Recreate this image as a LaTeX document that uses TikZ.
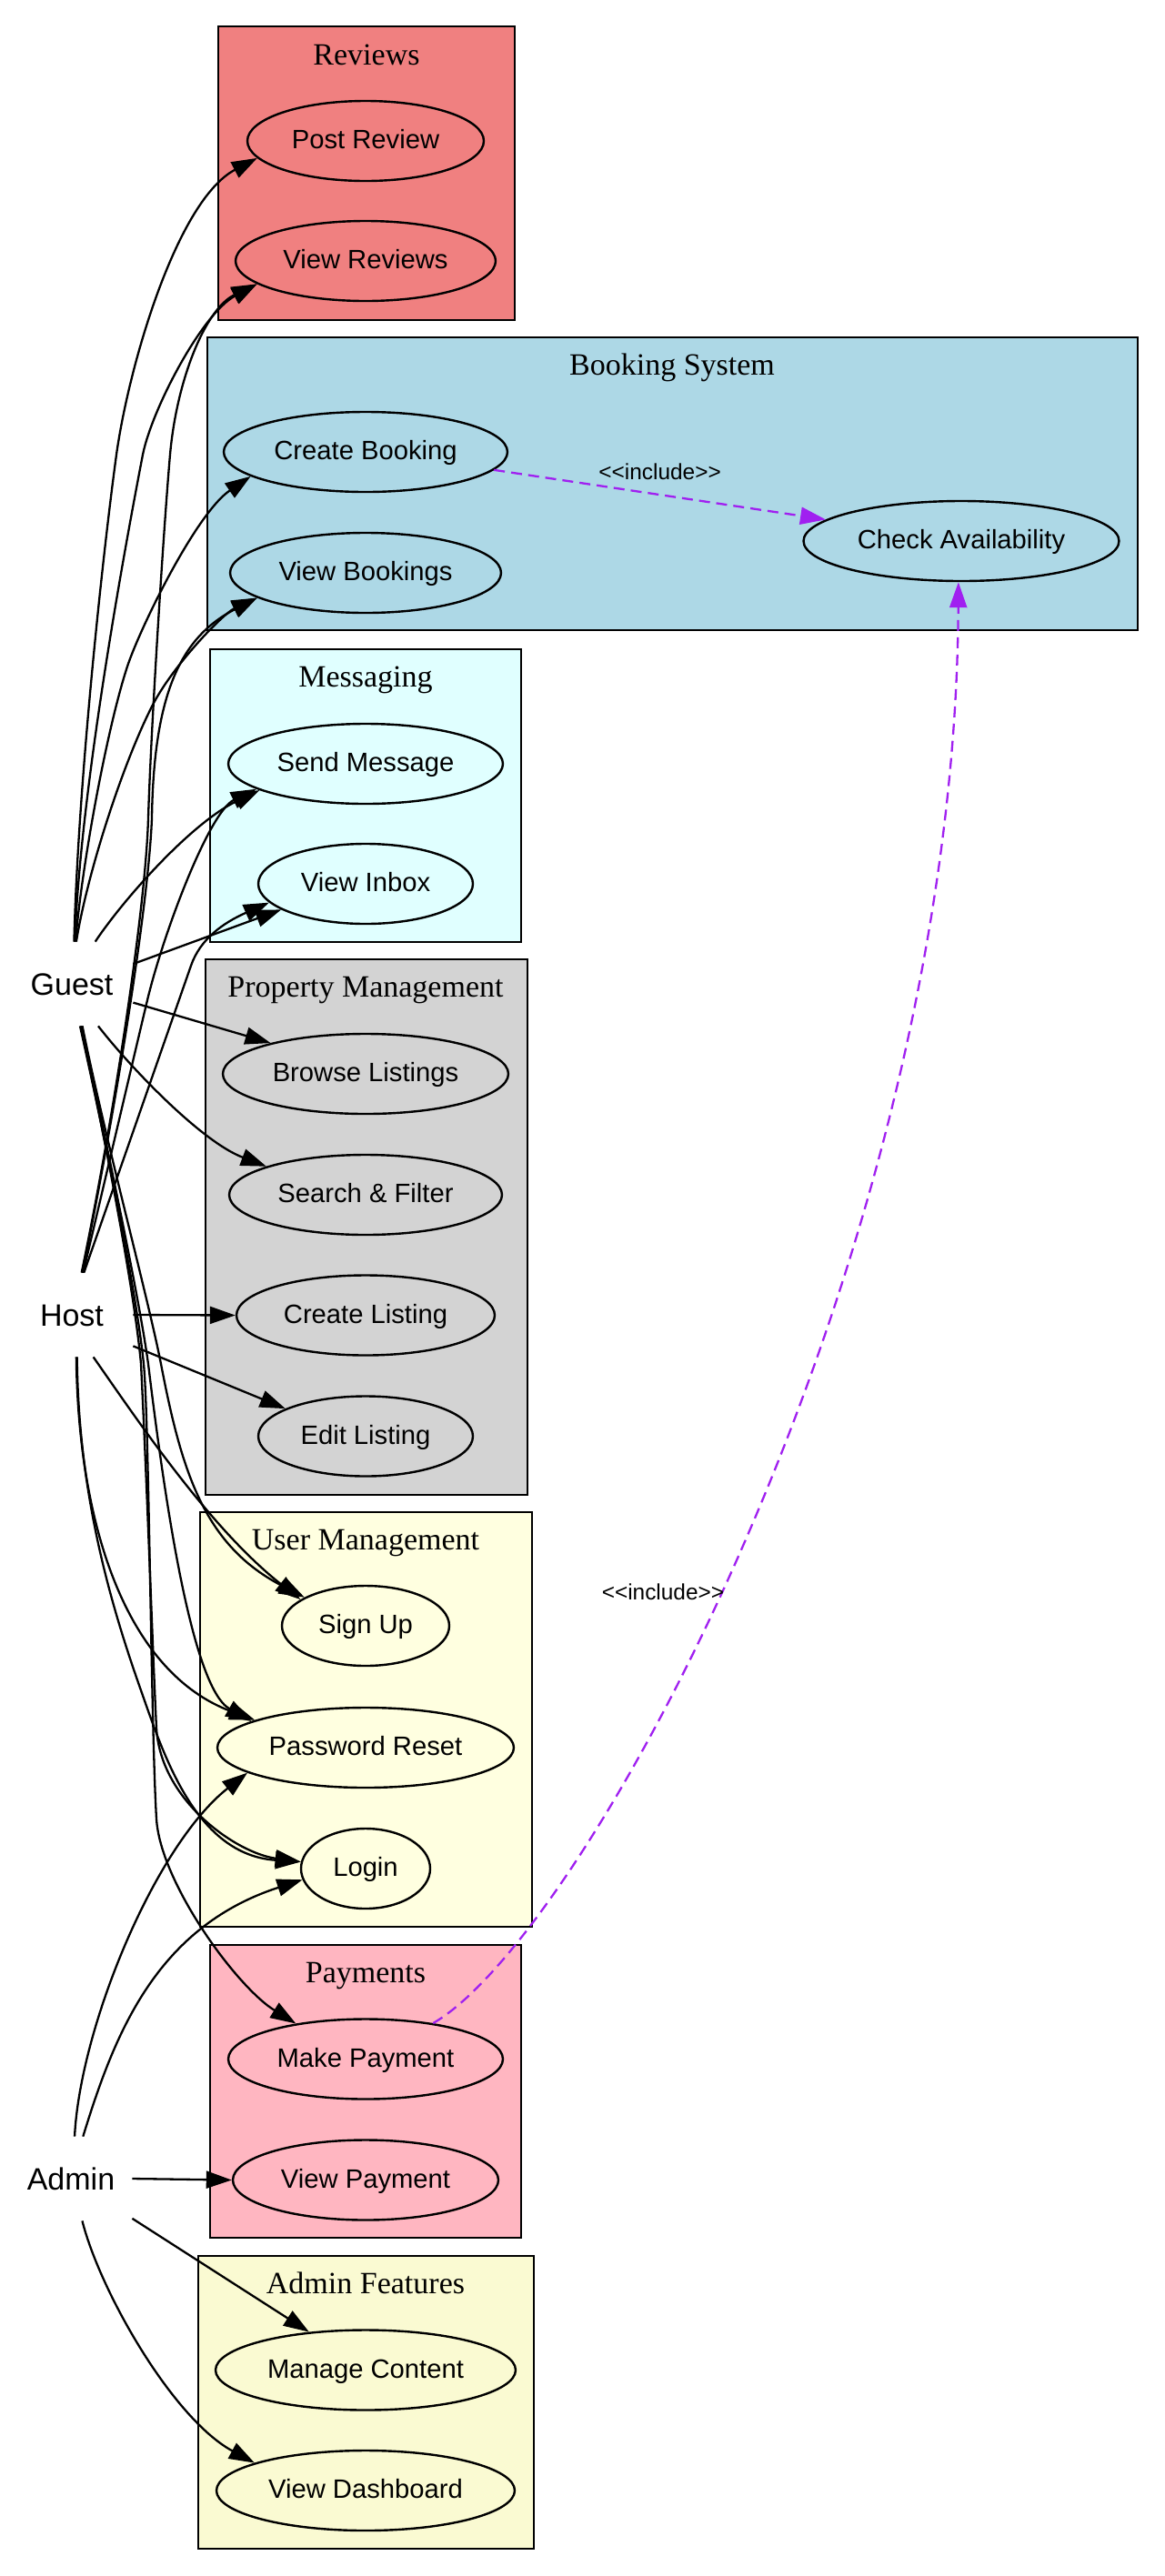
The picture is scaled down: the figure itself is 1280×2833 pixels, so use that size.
\documentclass[tikz,border=0pt]{standalone}
\usepackage{fontspec}
\setmainfont{Liberation Serif}
\newfontfamily\sansf{Liberation Sans}
\usetikzlibrary{shapes.geometric,arrows.meta}
\definecolor{cReviews}{HTML}{F08080}
\definecolor{cBooking}{HTML}{ADD8E6}
\definecolor{cMsg}{HTML}{E0FFFF}
\definecolor{cProp}{HTML}{D3D3D3}
\definecolor{cUser}{HTML}{FFFFE0}
\definecolor{cPay}{HTML}{FFB6C1}
\definecolor{cAdmin}{HTML}{FAFAD2}
\definecolor{inclc}{HTML}{A020F0}
\begin{document}
\begin{tikzpicture}[x=0.5pt,y=-0.5pt,
  cluster/.style={draw=black,line width=1.3pt},
  clabel/.style={font=\fontsize{17}{20}\selectfont,anchor=base,inner sep=0},
  uc/.style={ellipse,draw=black,line width=1.2pt,inner sep=0,minimum height=44pt,
    font=\sansf\fontsize{14.6}{17}\selectfont,text height=10pt,text depth=1.5pt},
  actor/.style={rectangle,inner sep=0,minimum width=67pt,minimum height=46pt,
    font=\sansf\fontsize{17}{20}\selectfont,text height=12pt,text depth=0pt},
  assoc/.style={line width=1.15pt,-{Triangle[length=14pt,width=9.5pt]}},
  inclarrow/.style={draw=inclc,line width=1.15pt,dash pattern=on 6pt off 3.5pt,-{Triangle[length=14pt,width=9.5pt]}},
  incllabel/.style={font=\sansf\fontsize{12.2}{14}\selectfont,inner sep=0,text=black}]
\useasboundingbox (0,0) rectangle (1280,2833);
\fill[white] (0,0) rectangle (1280,2833);
% clusters
\filldraw[cluster,fill=cReviews] (240,29) rectangle (566,352);
\filldraw[cluster,fill=cBooking] (228,371) rectangle (1251,693);
\filldraw[cluster,fill=cMsg] (231,714) rectangle (573,1036);
\filldraw[cluster,fill=cProp] (226,1055) rectangle (580,1644);
\filldraw[cluster,fill=cUser] (220,1663) rectangle (585,2119);
\filldraw[cluster,fill=cPay] (231,2139) rectangle (573,2461);
\filldraw[cluster,fill=cAdmin] (218,2481) rectangle (587,2803);
\node[clabel] (lrev) at (403,71) {Reviews};
\node[clabel] (lbook) at (739,412) {Booking System};
\node[clabel] (lmsg) at (402,755) {Messaging};
\node[clabel] (lprop) at (402,1096) {Property Management};
\node[clabel] (luser) at (402,1704) {User Management};
\node[clabel] (lpay) at (402,2180) {Payments};
\node[clabel] (ladm) at (402,2522) {Admin Features};
% use cases
\node[uc,fill=cReviews,minimum width=130pt] (postreview) at (402,155) {Post Review};
\node[uc,fill=cReviews,minimum width=143pt] (viewreviews) at (402,287) {View Reviews};
\node[uc,fill=cBooking,minimum width=156pt] (createbooking) at (402,497) {Create Booking};
\node[uc,fill=cBooking,minimum width=149pt] (viewbookings) at (402,630) {View Bookings};
\node[uc,fill=cBooking,minimum width=173.5pt] (checkavail) at (1057,595) {Check Availability};
\node[uc,fill=cMsg,minimum width=151pt] (sendmessage) at (402,840) {Send Message};
\node[uc,fill=cMsg,minimum width=118pt] (viewinbox) at (402,972) {View Inbox};
\node[uc,fill=cProp,minimum width=157pt] (browselistings) at (402,1181) {Browse Listings};
\node[uc,fill=cProp,minimum width=150pt] (searchfilter) at (402,1314) {Search \& Filter};
\node[uc,fill=cProp,minimum width=142pt] (createlisting) at (402,1446.5) {Create Listing};
\node[uc,fill=cProp,minimum width=118pt] (editlisting) at (402,1579.5) {Edit Listing};
\node[uc,fill=cUser,minimum width=92pt] (signup) at (402,1788) {Sign Up};
\node[uc,fill=cUser,minimum width=163pt] (passwordreset) at (402,1922) {Password Reset};
\node[uc,fill=cUser,minimum width=71pt] (login) at (402,2055) {Login};
\node[uc,fill=cPay,minimum width=151pt] (makepayment) at (402,2264.5) {Make Payment};
\node[uc,fill=cPay,minimum width=146pt] (viewpayment) at (402,2397.5) {View Payment};
\node[uc,fill=cAdmin,minimum width=165pt] (managecontent) at (402,2606.5) {Manage Content};
\node[uc,fill=cAdmin,minimum width=164pt] (viewdashboard) at (402,2739) {View Dashboard};
% actors
\node[actor] (guest) at (79,1082) {Guest};
\node[actor] (host) at (79,1446) {Host};
\node[actor] (admin) at (78,2396) {Admin};
% Guest edges
\draw[assoc] (guest.87) .. controls (86,860) and (113,610) .. (128,500) .. controls (142,400) and (195,220) .. (postreview.189.6);
\draw[assoc] (guest.86) .. controls (88,880) and (130,640) .. (157,500) .. controls (167,450) and (222,345) .. (viewreviews.192.8);
\draw[assoc] (guest.85) .. controls (90,950) and (118,800) .. (140,733) .. controls (153,693) and (215,565) .. (createbooking.192.3);
\draw[assoc] (guest.84) .. controls (96,960) and (135,840) .. (167,777) .. controls (189,733) and (245,675) .. (viewbookings.193.3);
\draw[assoc] (guest.61.5) .. controls (135,990) and (210,905) .. (sendmessage.194);
\draw[assoc] (guest.18) -- (viewinbox.197.8);
\draw[assoc] (guest.-17) -- (browselistings.162.6);
\draw[assoc] (guest.-58.7) .. controls (140,1170) and (220,1255) .. (searchfilter.164.3);
\draw[assoc] (guest.-76) .. controls (115,1250) and (163,1428) .. (177,1500) .. controls (200,1620) and (225,1700) .. (signup.155);
\draw[assoc] (guest.-77) .. controls (115,1250) and (152,1420) .. (163,1500) .. controls (180,1640) and (210,1855) .. (passwordreset.167);
\draw[assoc] (guest.-78) .. controls (115,1250) and (148,1420) .. (155,1500) .. controls (162,1640) and (168,1820) .. (172,1900) .. controls (176,1980) and (260,2038) .. (login.174);
\draw[assoc] (guest.-79) .. controls (115,1250) and (150,1420) .. (158,1500) .. controls (164,1560) and (166,1900) .. (172,2000) .. controls (176,2070) and (260,2185) .. (makepayment.153.4);
% Host edges
\draw[assoc] (host.77) .. controls (125,1230) and (160,1000) .. (163,900) .. controls (166,800) and (180,580) .. (187,500) .. controls (194,420) and (225,340) .. (viewreviews.192.8);
\draw[assoc] (host.76) .. controls (125,1230) and (163,1000) .. (167,900) .. controls (169,760) and (200,700) .. (viewbookings.193);
\draw[assoc] (host.75) .. controls (115,1300) and (150,1150) .. (162,1100) .. controls (180,1025) and (230,893) .. (sendmessage.193);
\draw[assoc] (host.74) -- (210,1062) .. controls (220,1033) and (245,1015) .. (viewinbox.191.4);
\draw[assoc] (host.0) -- (createlisting.180);
\draw[assoc] (host.-27.6) -- (editlisting.161.7);
\draw[assoc] (host.-63.4) .. controls (150,1560) and (230,1680) .. (signup.158);
\draw[assoc] (host.-84) .. controls (86,1680) and (140,1840) .. (passwordreset.166.5);
\draw[assoc] (host.-83) .. controls (86,1640) and (120,1760) .. (155,1859) .. controls (180,1930) and (215,2040) .. (login.174.5);
% Admin edges
\draw[assoc] (admin.85) .. controls (88,2230) and (170,2030) .. (passwordreset.192.6);
\draw[assoc] (admin.74) .. controls (125,2240) and (170,2120) .. (login.190.7);
\draw[assoc] (admin.0) -- (viewpayment.180);
\draw[assoc] (admin.-33.7) -- (managecontent.146.6);
\draw[assoc] (admin.-75.4) .. controls (110,2520) and (190,2660) .. (viewdashboard.166.6);
% include relations
\draw[inclarrow] (createbooking.-8.6) -- node[incllabel,pos=0.5,yshift=12.5pt] (incl1) {<{}<include>{}>} (checkavail.171.5);
\draw[inclarrow] (makepayment.28.3) .. controls (645,2128) and (1050,1380) .. node[incllabel,pos=0.455,anchor=east,xshift=2pt] (incl2) {<{}<include>{}>} (checkavail.266);
\end{tikzpicture}
\end{document}
